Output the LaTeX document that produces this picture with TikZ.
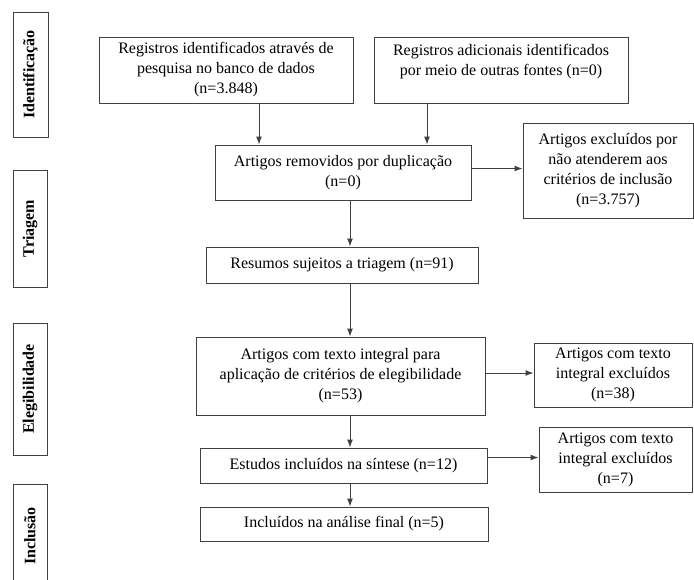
\documentclass[tikz,border=0pt]{standalone}
\usepackage{fontspec}
\setmainfont{Liberation Serif}
\usetikzlibrary{arrows.meta,positioning}
\tikzset{
    box/.style={draw=black!75, line width=1pt, inner sep=0pt, align=center, font=\fontsize{16}{20}\selectfont},
    stage/.style={draw=black!75, line width=1pt, inner sep=0pt, rotate=90, font=\fontsize{16}{20}\selectfont\bfseries},
    arr/.style={draw=black!75, line width=1pt, -{Latex[length=8pt,width=6pt]}}
}

\begin{document}
\begin{tikzpicture}[x=1pt,y=-1pt]
    \useasboundingbox (0,0) rectangle (694,579);

    % stages on the left
    \node[stage, minimum width=125, minimum height=35] (ident) at (30.5,74.5) {Identificação};
    \node[stage, minimum width=117, minimum height=34] (triag) at (30,228.5) {Triagem};
    \node[stage, minimum width=132, minimum height=34] (eleg) at (30,389) {Elegibilidade};
    \node[stage, minimum width=104, minimum height=34] (incl) at (30,536) {Inclusão};

    % flow boxes
    \node[box, minimum width=254, minimum height=66] (reg) at (226,70)
        {Registros identificados através de\\pesquisa no banco de dados\\(n=3.848)};
    \node[box, minimum width=254, minimum height=66] (adic) at (501,70)
        {Registros adicionais identificados\\por meio de outras fontes (n=0)\\\mbox{}};
    \node[box, minimum width=256, minimum height=55] (dup) at (343,172.5)
        {Artigos removidos por duplicação\\(n=0)};
    \node[box, minimum width=170, minimum height=95] (excl) at (608,170.5)
        {Artigos excluídos por\\não atenderem aos\\critérios de inclusão\\(n=3.757)};
    \node[box, minimum width=272, minimum height=36] (res) at (342,265)
        {Resumos sujeitos a triagem (n=91)};
    \node[box, minimum width=289, minimum height=78] (full) at (340.5,376)
        {Artigos com texto integral para\\aplicação de critérios de elegibilidade\\(n=53)};
    \node[box, minimum width=158, minimum height=64] (fexcl) at (613,375)
        {Artigos com texto\\integral excluídos\\(n=38)};
    \node[box, minimum width=287, minimum height=35] (sint) at (343.5,465.5)
        {Estudos incluídos na síntese (n=12)};
    \node[box, minimum width=153, minimum height=65] (sexcl) at (615.5,459.5)
        {Artigos com texto\\integral excluídos\\(n=7)};
    \node[box, minimum width=288, minimum height=34] (final) at (344,524)
        {Incluídos na análise final (n=5)};

    \coordinate (spine) at (350,0);

    % connectors
    \draw[arr] ([xshift=33pt]reg.south) -- ([xshift=33pt]reg.south |- dup.north);
    \draw[arr] ([xshift=-74pt]adic.south) -- ([xshift=-74pt]adic.south |- dup.north);
    \draw[arr] ([yshift=4pt]dup.east) -- ([yshift=4pt]dup.east -| excl.west);
    \draw[arr] (dup.south -| spine) -- (res.north -| spine);
    \draw[arr] (res.south -| spine) -- (full.north -| spine);
    \draw[arr] ([yshift=3pt]full.east) -- ([yshift=3pt]full.east -| fexcl.west);
    \draw[arr] (full.south -| spine) -- (sint.north -| spine);
    \draw[arr] ([yshift=8pt]sint.east) -- ([yshift=8pt]sint.east -| sexcl.west);
    \draw[arr] (sint.south -| spine) -- (final.north -| spine);
\end{tikzpicture}
\end{document}
